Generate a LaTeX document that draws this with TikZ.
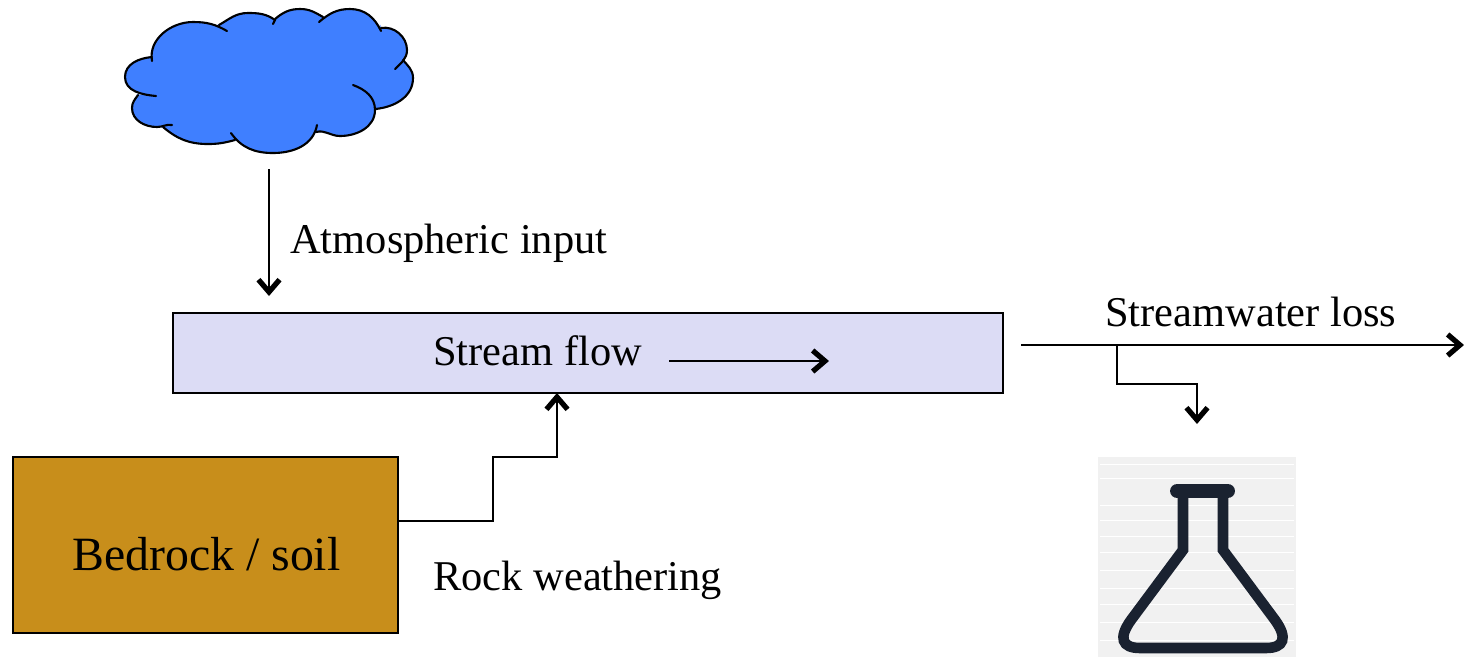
\documentclass[tikz,border=0pt]{standalone}
\usepackage{fontspec}
\setmainfont{Liberation Serif}
\usetikzlibrary{arrows.meta}
\definecolor{cloudblue}{HTML}{3F7FFF}
\definecolor{flowfill}{HTML}{DCDCF5}
\definecolor{rockfill}{HTML}{C88E1B}
\definecolor{flaskink}{HTML}{1A2230}
\definecolor{flaskback}{HTML}{F1F1F1}
\tikzset{
    flowline/.style={line width=1.1pt,-{Straight Barb[length=7pt,width=12pt,line width=3pt]}},
    label/.style={anchor=base west,inner sep=0pt,font=\fontsize{24.15}{28}\selectfont},
    lobe/.style={line width=1.2pt,line cap=round},
    lobefill/.style={draw=cloudblue,fill=cloudblue,line width=0.6pt},
    boxed/.style={draw=black,line width=0.8pt,inner sep=0pt}
}
\newcommand{\cloudlobes}{
    {(152,61) to[out=100,in=180] (193,22) to[out=0,in=150] (227,31)},
    {(219,25) to[out=30,in=180] (248,13) to[out=0,in=145] (275,20) -- (273,24)},
    {(275,19) to[out=40,in=180] (300,9) to[out=0,in=150] (323,17)},
    {(319,22) to[out=40,in=180] (350,9) to[out=0,in=115] (381,31)},
    {(381,28) to[out=10,in=90] (407,50) to[out=-90,in=45] (395,69)},
    {(403,60) to[out=-50,in=90] (413,78) to[out=-90,in=5] (375,109)},
    {(353,85) to[out=-20,in=90] (375,110) to[out=-90,in=0] (340,136) to[out=180,in=15] (316,132)},
    {(317,125) to[out=-100,in=0] (273,153) to[out=180,in=-55] (231,133)},
    {(235,140) to[out=-165,in=0] (208,144) to[out=180,in=-40] (163,127)},
    {(172,125) to[out=170,in=0] (157,127) to[out=180,in=-90] (132,108) to[out=90,in=-125] (138,95)},
    {(156,96) to[out=175,in=-90] (125,77) to[out=90,in=185] (152,57)}
}
\begin{document}
\begin{tikzpicture}[x=0.02cm,y=-0.02cm]
        \useasboundingbox (0,0) rectangle (1464,657);
        % Cloud
        \filldraw[lobefill] (152,61) -- (227,31) -- (219,25) -- (273,24) -- (275,19) -- (323,17) -- (319,22) -- (381,31) -- (381,28) -- (395,69) -- (403,60) -- (375,109) -- (316,132) -- (317,125) -- (231,133) -- (235,140) -- (163,127) -- (172,125) -- (138,95) -- (156,96) -- (152,57) -- cycle;
        \foreach \lobepath in \cloudlobes {\filldraw[lobefill] \lobepath -- cycle;}
        \foreach \lobepath in \cloudlobes {\draw[lobe] \lobepath;}
        % Boxes
        \node[boxed,fill=flowfill,minimum width=16.6cm,minimum height=1.6cm] (flow) at (588,353) {};
        \node[boxed,fill=rockfill,minimum width=7.7cm,minimum height=3.52cm] (rock) at (205.5,545) {};
        \node[fill=flaskback,inner sep=0pt,minimum width=3.96cm,minimum height=4cm] (flaskbox) at (1197,557) {};
        % Flask
        \foreach \streak in {464,478,505,520,536,552,570,588,604,622,640}
                \draw[white,line width=0.4pt] (1100,\streak) -- (1294,\streak);
        \draw[flaskink,line width=6pt,line join=miter] (1183,495) -- (1183,550) -- (1131,620) .. controls (1118,638) and (1122,648) .. (1140,648) -- (1266,648) .. controls (1284,648) and (1288,638) .. (1275,620) -- (1223,550) -- (1223,495);
        \draw[flaskink,line width=8.5pt,line cap=round] (1177.5,491) -- (1227.5,491);
        % Labels
        \node[label] (atmotext) at (290,253) {Atmospheric input};
        \node[label] (flowtext) at (433,365) {Stream flow};
        \node[label] (losstext) at (1105,326) {Streamwater loss};
        \node[label] (weathertext) at (433,590) {Rock weathering};
        \node[label,font=\fontsize{27.2}{32}\selectfont] (rocktext) at (72,570) {Bedrock / soil};
        % Connectors
        \coordinate (rainstart) at (269,169);
        \coordinate (rainend) at (269,296);
        \coordinate (streamstart) at (669,361);
        \coordinate (streamend) at (829,361);
        \coordinate (lossstart) at (1021,345);
        \coordinate (lossend) at (1464,345);
        \coordinate (samplestart) at (1117,345);
        \coordinate (sampleend) at (1197,424);
        \coordinate (weatherstart) at (398,521);
        \coordinate (weatherend) at (557,393);
        \draw[flowline] (rainstart) -- (rainend);
        \draw[flowline] (streamstart) -- (streamend);
        \draw[flowline] (lossstart) -- (lossend);
        \draw[flowline] (samplestart) -- (1117,384) -- (1197,384) -- (sampleend);
        \draw[flowline] (weatherstart) -- (493,521) -- (493,457) -- (557,457) -- (weatherend);
\end{tikzpicture}
\end{document}
